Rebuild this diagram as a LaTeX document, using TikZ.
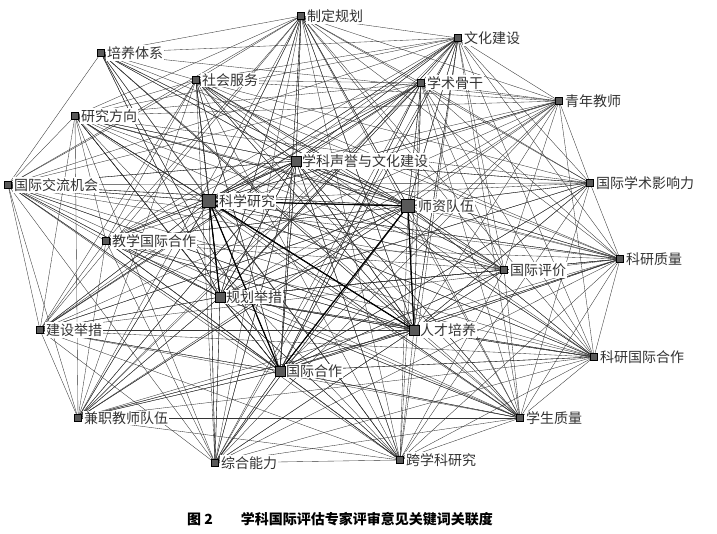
\documentclass[tikz,border=0pt]{standalone}
\usepackage{fontspec}
\newfontfamily\cjk{Noto Sans CJK SC}
\begin{document}
\begin{tikzpicture}[x=1pt,y=-1pt,
  mk/.style={fill=black!65,draw=black,inner sep=0pt,minimum size=7pt},
  bigmk/.style={mk,minimum size=13pt},
  lab/.style={font=\cjk\fontsize{14}{14}\selectfont,fill=white,inner sep=1pt,anchor=west,text=black!80},
  edge/.style={draw=black!80,line width=0.35pt}]
\useasboundingbox (0,0) rectangle (717,534);
\fill[white] (0,0) rectangle (717,534);
\def\L{{"制定规划","文化建设","培养体系","社会服务","学术骨干","青年教师","研究方向","学科声誉与文化建设","国际学术影响力","国际交流机会","科学研究","师资队伍","教学国际合作","科研质量","国际评价","规划举措","建设举措","人才培养","科研国际合作","国际合作","兼职教师队伍","学生质量","综合能力","跨学科研究"}}
\foreach \x/\y [count=\i] in {301/16,458/38,101/53,196/80,421/83,559/101,75/116,296/161,590/183,8/185,209/201,408/206,106/241,620/259,504/270,220/297,40/330,414/330,594/357,280/371,78/418,520/418,215/463,400/460}
  \coordinate (n\i) at (\x,\y);
\foreach \i in {1,...,23}{
  \pgfmathtruncatemacro\s{\i+1}
  \foreach \j in {\s,...,24}{
    \pgfmathtruncatemacro\sk{mod(\i*7+\j*3,6)}
    \ifnum\sk>0 \draw[edge] (n\i) -- (n\j);\fi
  }}
\foreach \h in {11,12,18,20,16,8}{
  \foreach \j in {1,...,24}{\draw[edge] (n\h) -- (n\j);}}
\draw[line width=1.2pt] (n11)--(n12) (n11)--(n18) (n12)--(n18) (n11)--(n16) (n12)--(n20) (n11)--(n20);
\foreach \i in {1,...,24}{
  \pgfmathsetmacro\t{\L[\i-1]}
  \node[mk] (m\i) at (n\i) {};
  \ifnum\i=11 \node[lab] at ([xshift=9pt]n\i) {\t};
  \else\ifnum\i=12 \node[lab] at ([xshift=9pt]n\i) {\t};
  \else \node[lab] at ([xshift=5pt]n\i) {\t};\fi\fi}
\foreach \i in {11,12}{\node[bigmk] at (n\i) {};}
\foreach \i in {8,16,18,20}{\node[mk,minimum size=10pt] at (n\i) {};}
\node[font=\cjk\bfseries\fontsize{14}{14}\selectfont] (cap) at (340,519) {图 2\qquad 学科国际评估专家评审意见关键词关联度};
\end{tikzpicture}
\end{document}
